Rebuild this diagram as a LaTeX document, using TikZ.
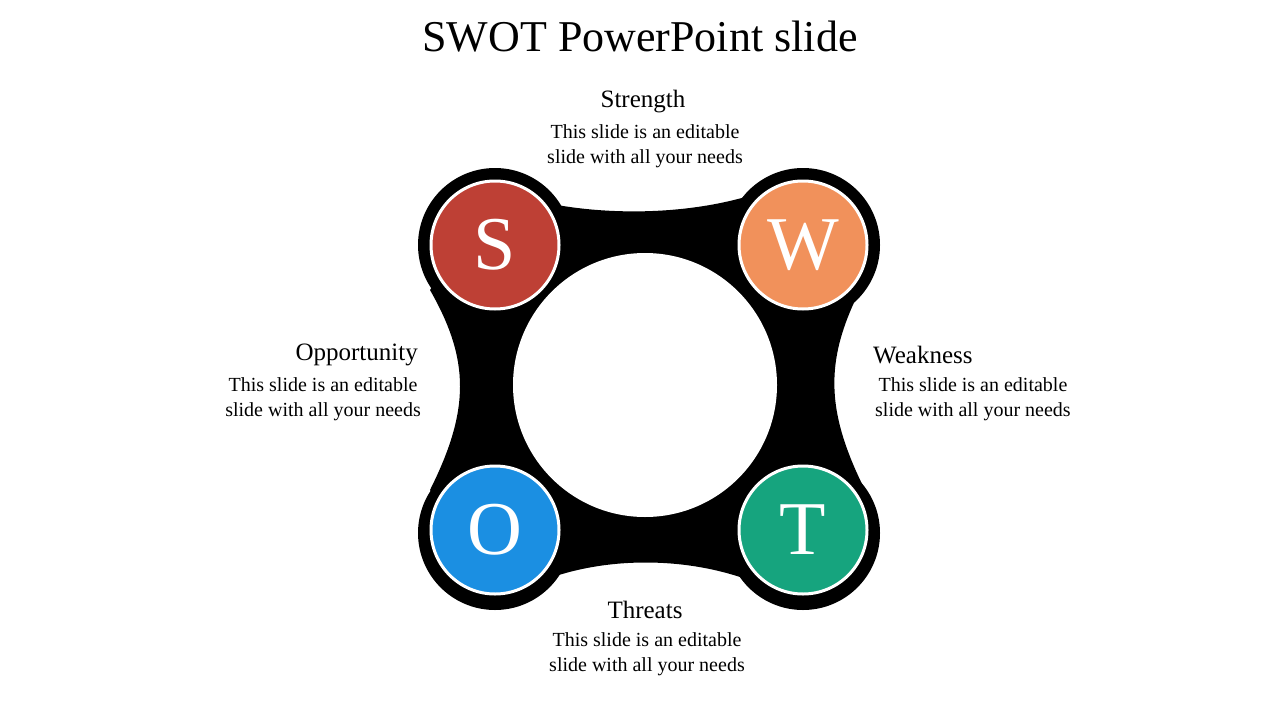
\documentclass[tikz,border=0pt]{standalone}
\usepackage{fontspec}
\setmainfont{Liberation Serif}
\tikzset{
 letter/.style={circle,draw=white,line width=3pt,minimum size=128pt,text=white,font=\fontsize{76}{76}\selectfont},
 head/.style={font=\fontsize{25}{28}\selectfont,inner sep=0pt},
 body/.style={font=\fontsize{20}{25}\selectfont,align=center,inner sep=0pt},
}
\begin{document}
\begin{tikzpicture}[x=1pt,y=-1pt]
\useasboundingbox (0,0) rectangle (1280,720);
\node[font=\fontsize{44}{48}\selectfont] (title) at (640,37) {SWOT PowerPoint slide};
% black blob
\fill[black] (495,245) circle (77) (803,245) circle (77) (495,533) circle (77) (803,533) circle (77);
\fill[black] (500,190) .. controls (580,220) and (710,220) .. (790,180)
 -- (860,290) .. controls (825,360) and (825,410) .. (865,490)
 -- (790,600) .. controls (710,550) and (580,550) .. (505,600)
 -- (430,490) .. controls (470,410) and (470,360) .. (430,290) -- cycle;
\fill[white] (645,385) circle (132);
\node[letter,fill={rgb,255:red,190;green,64;blue,53}] (s) at (495,245) {S};
\node[letter,fill={rgb,255:red,241;green,145;blue,91}] (w) at (803,245) {W};
\node[letter,fill={rgb,255:red,27;green,143;blue,226}] (o) at (495,530) {O};
\node[letter,fill={rgb,255:red,22;green,164;blue,126}] (t) at (803,530) {T};
\node[head] (sh) at (643,102) {Strength};
\node[body] (sb) at (645,146) {This slide is an editable\\slide with all your needs};
\node[head,anchor=west] (wh) at (873,355) {Weakness};
\node[body,anchor=west] (wb) at (875,399) {This slide is an editable\\slide with all your needs};
\node[head,anchor=east] (oh) at (418,355) {Opportunity};
\node[body,anchor=east] (ob) at (421,399) {This slide is an editable\\slide with all your needs};
\node[head] (th) at (645,610) {Threats};
\node[body] (tb) at (647,654) {This slide is an editable\\slide with all your needs};
\end{tikzpicture}
\end{document}
